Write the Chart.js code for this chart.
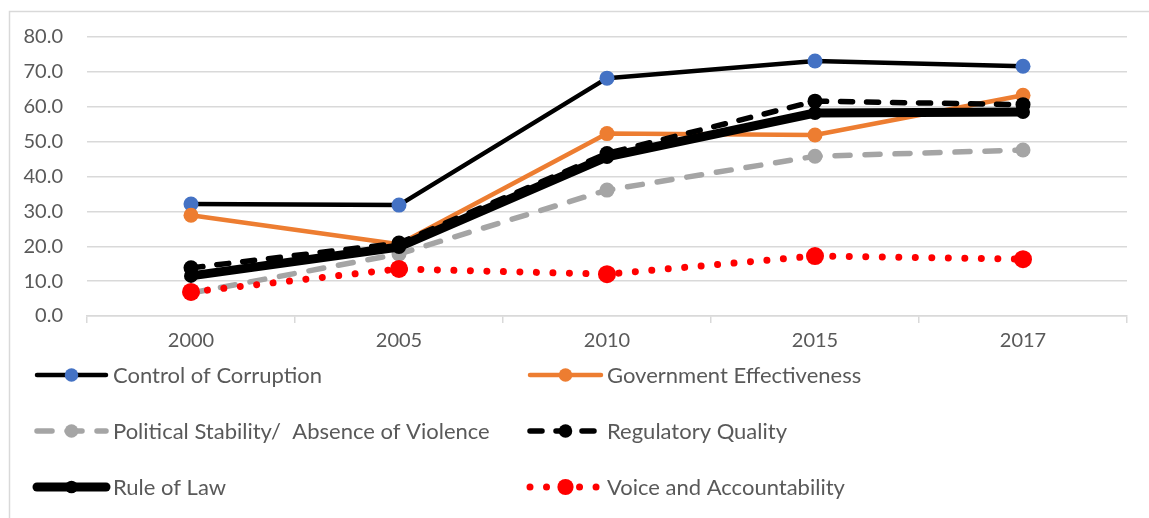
<!DOCTYPE html>
<html>
<head>
<meta charset="utf-8">
<script src="https://cdn.jsdelivr.net/npm/chart.js@4/dist/chart.umd.min.js"></script>
<style>
  html, body { margin: 0; padding: 0; background: #fff; }
  #wrap { position: relative; width: 1149px; height: 518px; }
</style>
</head>
<body>
<div id="wrap"><canvas id="govChart" width="1149" height="518"></canvas></div>
<script>
// données
const years = ['2000', '2005', '2010', '2015', '2017'];
const controlCorruption = [32.1, 31.8, 68.2, 73.1, 71.6];
const govEffectiveness = [28.9, 20.6, 52.3, 51.9, 63.3];
const politicalStability = [6.6, 17.8, 36.1, 45.8, 47.6];
const regulatoryQuality = [13.8, 20.9, 46.6, 61.6, 60.6];
const ruleOfLaw = [11.5, 19.8, 45.6, 58.2, 58.5];
const voiceAccountability = [6.9, 13.5, 12.0, 17.2, 16.3];
const yTicks = [0, 10, 20, 30, 40, 50, 60, 70, 80];

const textColor = '#595959';
const gridColor = '#d9d9d9';
const fontFamily = 'Lato, "Open Sans", sans-serif';

function makeSet(label, data, color, width, dash, pointColor, radius, idx) {
    return {
        label: label,
        data: data,
        borderColor: color,
        borderWidth: width,
        borderDash: dash,
        borderCapStyle: 'round',
        borderJoinStyle: 'round',
        pointBackgroundColor: pointColor,
        pointBorderColor: pointColor,
        pointBorderWidth: 0,
        pointRadius: radius,
        pointHoverRadius: radius,
        tension: 0,
        fill: false,
        order: 5 - idx
    };
}

// légende dessinée façon Excel (trait + marqueur)
const legendPlugin = {
    id: 'excelLegend',
    afterDraw(chart) {
        const ctx = chart.ctx;
        ctx.save();
        // cadre
        ctx.strokeStyle = gridColor;
        ctx.lineWidth = 1.5;
        ctx.beginPath();
        ctx.moveTo(9.5, 518);
        ctx.lineTo(9.5, 11.5);
        ctx.lineTo(1149, 11.5);
        ctx.stroke();

        const rows = [375, 431, 487];
        const cols = [{x0: 37, x1: 106, tx: 113}, {x0: 530, x1: 601, tx: 607}];
        chart.data.datasets.forEach((ds, i) => {
            const c = cols[i % 2];
            const y = rows[Math.floor(i / 2)];
            ctx.strokeStyle = ds.borderColor;
            ctx.lineWidth = ds.borderWidth;
            ctx.lineCap = 'round';
            ctx.setLineDash(ds.borderDash || []);
            ctx.beginPath();
            ctx.moveTo(c.x0, y);
            ctx.lineTo(c.x1, y);
            ctx.stroke();
            ctx.setLineDash([]);
            ctx.fillStyle = ds.pointBackgroundColor;
            ctx.beginPath();
            ctx.arc((c.x0 + c.x1) / 2, y, ds.pointRadius * 0.9, 0, Math.PI * 2);
            ctx.fill();
            ctx.fillStyle = textColor;
            ctx.font = '22px ' + fontFamily;
            ctx.textAlign = 'left';
            ctx.textBaseline = 'middle';
            ctx.fillText(ds.label, c.tx, y + 1);
        });
        ctx.restore();
    }
};

const ctx = document.getElementById('govChart').getContext('2d');
new Chart(ctx, {
    type: 'line',
    data: {
        labels: years,
        datasets: [
            makeSet('Control of Corruption', controlCorruption, '#000000', 4.5, [], '#4472C4', 7.5, 0),
            makeSet('Government Effectiveness', govEffectiveness, '#ED7D31', 4.5, [], '#ED7D31', 7.5, 1),
            makeSet('Political Stability/  Absence of Violence', politicalStability, '#A5A5A5', 5.5, [15, 15], '#A5A5A5', 7.5, 2),
            makeSet('Regulatory Quality', regulatoryQuality, '#000000', 5.5, [12, 14], '#000000', 7.5, 3),
            makeSet('Rule of Law', ruleOfLaw, '#000000', 9, [], '#000000', 7, 4),
            makeSet('Voice and Accountability', voiceAccountability, '#FF0000', 7, [0.01, 16.5], '#FF0000', 9, 5)
        ]
    },
    options: {
        responsive: false,
        animation: false,
        layout: { padding: { top: 37, left: 0, right: 22, bottom: 0 } },
        plugins: {
            legend: { display: false },
            tooltip: { enabled: false }
        },
        scales: {
            x: {
                offset: true,
                grid: {
                    offset: true,
                    drawOnChartArea: false,
                    drawTicks: true,
                    tickLength: 7,
                    color: gridColor,
                    lineWidth: 1.5
                },
                border: { display: true, color: gridColor, width: 1.5 },
                ticks: {
                    color: textColor,
                    font: { family: fontFamily, size: 20 },
                    padding: 6
                },
                afterFit(scale) { scale.height = 202; }
            },
            y: {
                min: 0,
                max: 80,
                afterBuildTicks(scale) { scale.ticks = yTicks.map(v => ({ value: v })); },
                grid: { color: gridColor, lineWidth: 1.5, drawTicks: false },
                border: { display: false },
                ticks: {
                    color: textColor,
                    font: { family: fontFamily, size: 20 },
                    padding: 24,
                    callback: v => Number(v).toFixed(1)
                },
                afterFit(scale) { scale.width = 87; }
            }
        }
    },
    plugins: [legendPlugin]
});
</script>
</body>
</html>
